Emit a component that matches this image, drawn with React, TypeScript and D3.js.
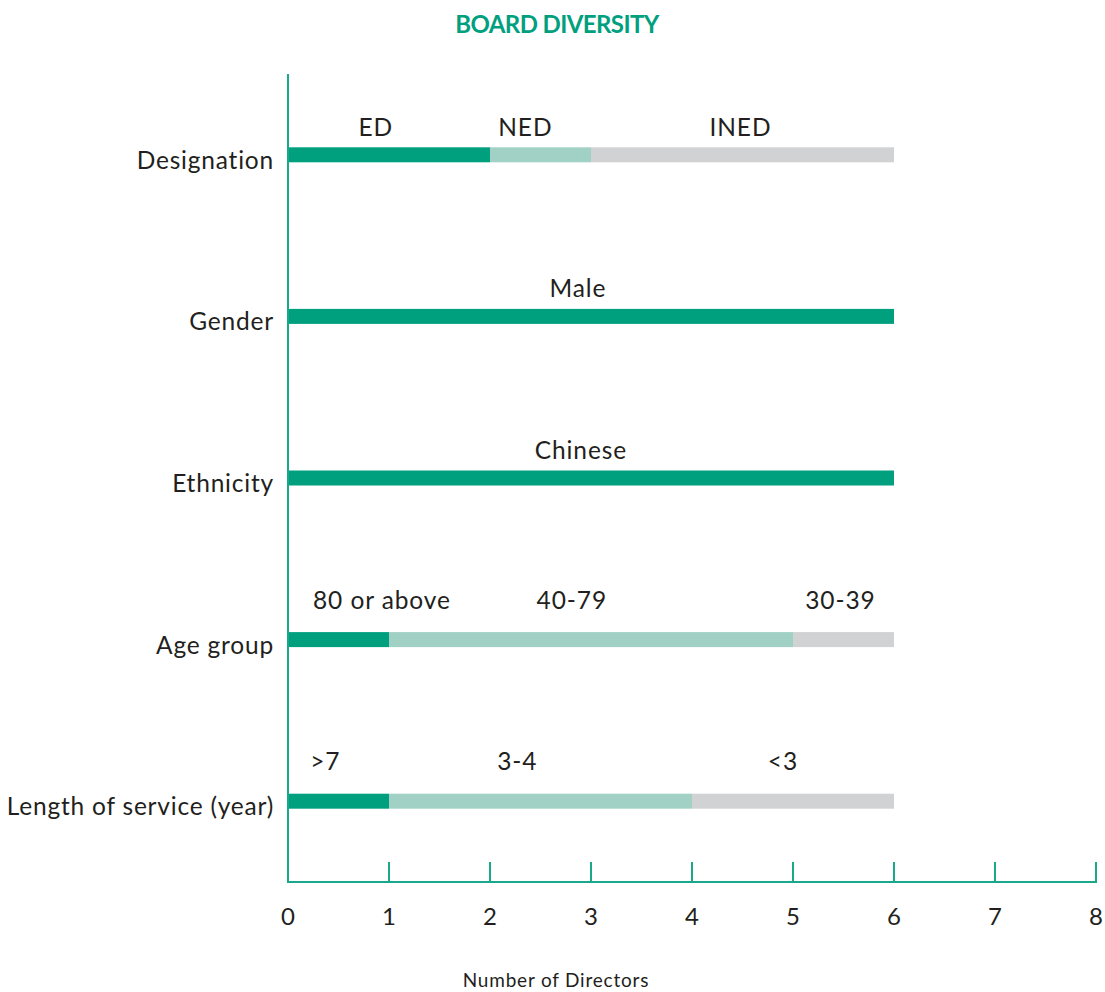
import React from "react";
import * as d3 from "d3";

// Board composition, counted in directors per category
const categories = ["Designation", "Gender", "Ethnicity", "Age group", "Length of service (year)"];
const segmentNames = [
  ["ED", "NED", "INED"],
  ["Male"],
  ["Chinese"],
  ["80 or above", "40-79", "30-39"],
  [">7", "3-4", "<3"],
];
const segmentCounts = [
  [2, 1, 3],
  [6],
  [6],
  [1, 4, 1],
  [1, 3, 2],
];
const xTicks = [0, 1, 2, 3, 4, 5, 6, 7, 8];

// Where each segment's caption sits, in directors along the axis
const captionAt = [
  [0.87, 2.35, 4.48],
  [2.87],
  [2.9],
  [0.93, 2.81, 5.47],
  [0.37, 2.27, 4.9],
];
// How far above the bar each row's captions are lifted (px)
const captionLift = [18, 19, 19, 30, 31];

const W = 1105;
const H = 992;
const FONT = "Lato, 'Open Sans', sans-serif";
const TEXT = "#231f20";
const AXIS = "#1aa88a";
const SHADES = ["#00a07f", "#a0d1c4", "#d1d2d4"];

export default function App() {
  const x = d3.scaleLinear().domain([0, 8]).range([288, 1096]);
  const y = d3.scaleBand<string>().domain(categories).range([74, 882]);
  const barH = 15;
  const axisY = 882;

  return (
    <svg
      width={W}
      height={H}
      style={{ position: "absolute", left: 0, top: 0, background: "#fff" }}
      fontFamily={FONT}
    >
      <text x={557} y={32.5} textAnchor="middle" fill="#00a07f" fontWeight={700} fontSize={24} letterSpacing={-0.6}>
        BOARD DIVERSITY
      </text>

      {categories.map((cat, i) => {
        const cy = (y(cat) as number) + y.bandwidth() / 2;
        const counts = segmentCounts[i];
        const starts = d3.cumsum([0, ...counts]);
        return (
          <g key={cat}>
            <text x={274} y={cy + 14} textAnchor="end" fill={TEXT} fontSize={24.5} letterSpacing={0.8}>
              {cat}
            </text>
            {counts.map((c, j) => (
              <rect
                key={j}
                x={x(starts[j])}
                y={cy - barH / 2}
                width={x(starts[j] + c) - x(starts[j])}
                height={barH}
                fill={counts.length === 1 ? SHADES[0] : SHADES[j]}
              />
            ))}
            {segmentNames[i].map((nm, j) => (
              <text
                key={nm}
                x={x(captionAt[i][j])}
                y={cy - barH / 2 - captionLift[i] + 7}
                textAnchor="middle"
                fill={TEXT}
                fontSize={24.5}
                letterSpacing={0.9}
              >
                {nm}
              </text>
            ))}
          </g>
        );
      })}

      {/* axes */}
      <line x1={x(0)} x2={x(0)} y1={74} y2={axisY} stroke={AXIS} strokeWidth={2} />
      <line x1={x(0) - 1} x2={x(8) + 1} y1={axisY} y2={axisY} stroke={AXIS} strokeWidth={2} />
      {xTicks.map((t) => (
        <g key={t}>
          {t > 0 && <line x1={x(t)} x2={x(t)} y1={axisY - 20} y2={axisY} stroke={AXIS} strokeWidth={2} />}
          <text x={x(t)} y={925} textAnchor="middle" fill={TEXT} fontSize={24}>
            {t}
          </text>
        </g>
      ))}
      <text x={556} y={987} textAnchor="middle" fill={TEXT} fontSize={19} letterSpacing={0.8}>
        Number of Directors
      </text>
    </svg>
  );
}
